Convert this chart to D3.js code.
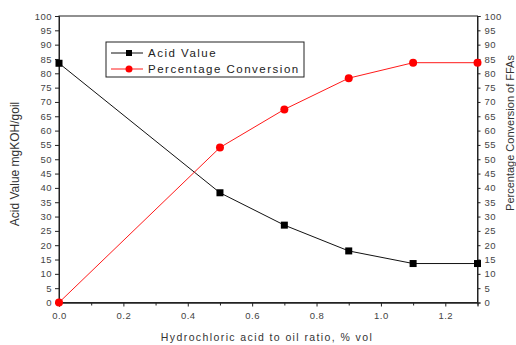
<!DOCTYPE html>
<html>
<head>
<meta charset="utf-8">
<script src="https://cdn.jsdelivr.net/npm/d3@7"></script>
<style>
  html, body { margin: 0; padding: 0; background: #fff; }
  svg { display: block; font-family: "Liberation Sans", Arial, sans-serif; }
</style>
</head>
<body>
<svg id="chart" width="516" height="345"></svg>
<script>
// HCl-to-oil ratio (% vol)
const ratios = [0.0, 0.5, 0.7, 0.9, 1.1, 1.3];
// Acid value, mg KOH / g oil
const acidValue = [83.5, 38.3, 27.0, 18.0, 13.6, 13.6];
// Percentage conversion of FFAs
const conversion = [0.0, 54.1, 67.4, 78.3, 83.7, 83.7];

const xTicks = [0.0, 0.2, 0.4, 0.6, 0.8, 1.0, 1.2];
const yTicks = d3.range(0, 101, 5);

const seriesNames = ["Acid Value", "Percentage Conversion"];

const svg = d3.select("#chart");
const m = { left: 59, right: 477.5, top: 16, bottom: 302.5 };

const x = d3.scaleLinear().domain([0, 1.3]).range([m.left, m.right]);
const yL = d3.scaleLinear().domain([0, 100]).range([m.bottom, m.top]);
const yR = d3.scaleLinear().domain([0, 100]).range([m.bottom, m.top]);

const tickColor = "#444";

// frame
svg.append("rect")
  .attr("x", m.left).attr("y", m.top)
  .attr("width", m.right - m.left).attr("height", m.bottom - m.top)
  .attr("fill", "none").attr("stroke", "#222").attr("stroke-width", 1);

// bottom axis: labelled majors + unlabelled minors
const gx = svg.append("g").attr("transform", `translate(0,${m.bottom})`);
gx.call(d3.axisBottom(x).tickValues(xTicks).tickFormat(d3.format(".1f")).tickSize(4).tickPadding(6));
gx.append("g").call(d3.axisBottom(x).tickValues(d3.range(0.1, 1.3, 0.2)).tickFormat("").tickSize(3));

// left axis
const gl = svg.append("g").attr("transform", `translate(${m.left},0)`);
gl.call(d3.axisLeft(yL).tickValues(yTicks).tickSize(4).tickPadding(3));

// right axis
const gr = svg.append("g").attr("transform", `translate(${m.right},0)`);
gr.call(d3.axisRight(yR).tickValues(yTicks).tickSize(3).tickPadding(4));

svg.selectAll(".domain").attr("stroke", "#222");
svg.selectAll(".tick line").attr("stroke", "#222");
svg.selectAll(".tick text")
  .attr("fill", tickColor)
  .style("font-size", "9.5px")
  .style("letter-spacing", "0.5px")
  .style("font-family", "'Liberation Sans', Arial, sans-serif");

// axis titles
svg.append("text")
  .attr("transform", `translate(19,164) rotate(-90)`)
  .attr("text-anchor", "middle")
  .attr("fill", "#333")
  .style("font-size", "12px")
  .text("Acid Value mgKOH/goil");

svg.append("text")
  .attr("transform", `translate(514,133) rotate(-90)`)
  .attr("text-anchor", "middle")
  .attr("fill", "#333")
  .style("font-size", "11px")
  .text("Percentage Conversion of FFAs");

svg.append("text")
  .attr("x", 267).attr("y", 341)
  .attr("text-anchor", "middle")
  .attr("fill", "#333")
  .style("font-size", "10.5px")
  .style("letter-spacing", "1.4px")
  .text("Hydrochloric acid to oil ratio, % vol");

// series
const acidPts = ratios.map((r, i) => [r, acidValue[i]]);
const convPts = ratios.map((r, i) => [r, conversion[i]]);

svg.append("path")
  .datum(acidPts)
  .attr("fill", "none").attr("stroke", "#111").attr("stroke-width", 1)
  .attr("d", d3.line().x(d => x(d[0])).y(d => yL(d[1])));

svg.append("path")
  .datum(convPts)
  .attr("fill", "none").attr("stroke", "#ff1a1a").attr("stroke-width", 1)
  .attr("d", d3.line().x(d => x(d[0])).y(d => yR(d[1])));

svg.append("g").selectAll("rect").data(acidPts).join("rect")
  .attr("x", d => x(d[0]) - 3.5).attr("y", d => yL(d[1]) - 3.5)
  .attr("width", 7).attr("height", 7).attr("fill", "#000");

svg.append("g").selectAll("circle").data(convPts).join("circle")
  .attr("cx", d => x(d[0])).attr("cy", d => yR(d[1]))
  .attr("r", 4).attr("fill", "#ff0000");

// legend
const lg = svg.append("g");
lg.append("rect")
  .attr("x", 106).attr("y", 42).attr("width", 198).attr("height", 35)
  .attr("fill", "#fff").attr("stroke", "#222").attr("stroke-width", 1);

const rows = [
  { name: seriesNames[0], color: "#111", y: 53, shape: "square" },
  { name: seriesNames[1], color: "#ff1a1a", y: 69, shape: "circle" }
];
rows.forEach(r => {
  lg.append("line").attr("x1", 111).attr("x2", 143).attr("y1", r.y).attr("y2", r.y)
    .attr("stroke", r.color).attr("stroke-width", 1);
  if (r.shape === "square") {
    lg.append("rect").attr("x", 126).attr("y", r.y - 3).attr("width", 6).attr("height", 6).attr("fill", "#000");
  } else {
    lg.append("circle").attr("cx", 129).attr("cy", r.y).attr("r", 3.5).attr("fill", "#ff0000");
  }
  lg.append("text").attr("x", 148).attr("y", r.y + 4)
    .attr("fill", "#222")
    .style("font-size", "11.5px")
    .style("letter-spacing", "1.5px")
    .text(r.name);
});
</script>
</body>
</html>
